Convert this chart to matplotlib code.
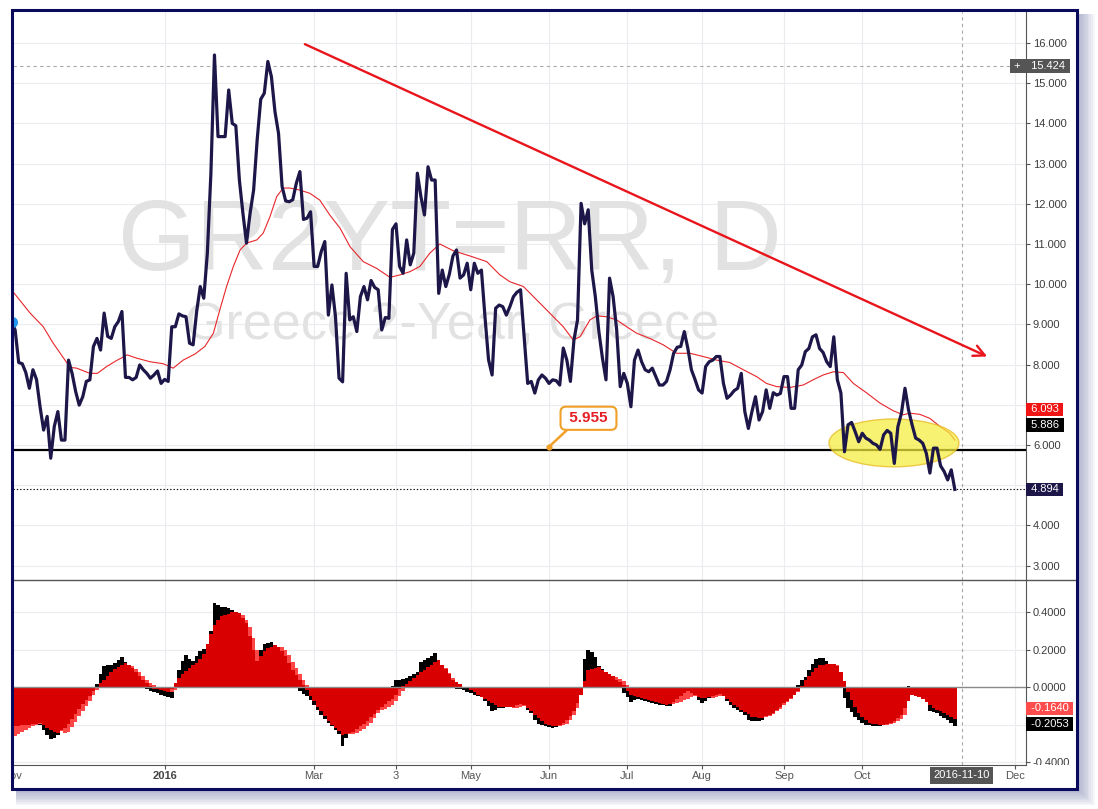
"""GR2YT=RR daily chart (Greece 2-year yield) with a MACD-style oscillator pane."""

import matplotlib
matplotlib.use("Agg")
import matplotlib.pyplot as plt
import pandas as pd
from matplotlib.lines import Line2D
from matplotlib.patches import Ellipse, Rectangle
from matplotlib.transforms import Bbox, TransformedBbox

plt.rcParams["font.family"] = ["Liberation Sans", "DejaVu Sans"]

W, H = 1098, 809
FIRST_DAY = "2015-11-02"          # bar 0 of the trading-day axis

# daily yield, one value per trading bar starting at bar 1
price = [
    9.07, 8.86, 8.05, 8.02, 7.80, 7.41, 7.87, 7.63, 6.95, 6.37,
    6.71, 5.67, 6.46, 6.83, 6.12, 6.12, 8.11, 7.78, 7.33, 6.99,
    7.20, 7.58, 7.62, 8.45, 8.65, 8.36, 9.28, 8.70, 8.65, 8.94,
    9.07, 9.32, 7.68, 7.68, 7.62, 7.68, 7.99, 7.87, 7.78, 7.66,
    7.74, 7.84, 7.53, 7.63, 7.58, 8.94, 8.94, 9.26, 9.21, 9.19,
    8.53, 8.49, 9.32, 9.94, 9.65, 10.77, 12.76, 15.70, 13.67, 13.67,
    13.67, 14.83, 14.00, 13.94, 12.59, 11.76, 11.02, 11.76, 12.34, 13.59,
    14.60, 14.75, 15.54, 15.16, 14.29, 13.75, 12.43, 12.07, 12.05, 12.10,
    12.51, 12.80, 11.61, 11.64, 11.80, 10.44, 10.44, 10.81, 11.06, 9.23,
    9.98, 9.19, 7.66, 7.57, 10.27, 9.11, 9.19, 8.82, 9.69, 9.94,
    9.61, 10.09, 9.92, 9.86, 8.86, 9.17, 9.15, 11.36, 11.50, 10.44,
    10.27, 11.10, 10.48, 10.77, 12.76, 12.18, 11.72, 12.92, 12.59, 12.59,
    9.77, 10.35, 9.94, 10.25, 10.70, 10.85, 10.15, 10.23, 10.52, 9.86,
    10.52, 10.27, 10.35, 9.19, 8.12, 7.74, 9.40, 9.48, 9.44, 9.23,
    9.44, 9.69, 9.80, 9.86, 8.69, 7.53, 7.58, 7.29, 7.62, 7.74,
    7.66, 7.53, 7.62, 7.60, 7.49, 8.41, 8.11, 7.58, 8.61, 9.11,
    12.01, 11.50, 11.85, 10.35, 9.69, 8.82, 8.16, 7.62, 10.15, 9.69,
    8.86, 7.45, 7.78, 7.53, 6.95, 8.11, 8.36, 8.07, 7.87, 7.82,
    7.91, 7.70, 7.49, 7.49, 7.58, 7.87, 8.28, 8.43, 8.45, 8.82,
    8.40, 7.87, 7.63, 7.37, 7.29, 7.95, 8.07, 8.11, 8.20, 8.20,
    7.53, 7.16, 7.24, 7.35, 7.41, 7.78, 6.83, 6.41, 6.83, 7.20,
    6.62, 6.83, 7.37, 6.91, 7.30, 7.24, 7.28, 7.70, 7.70, 6.91,
    6.91, 7.87, 7.99, 8.32, 8.40, 8.69, 8.74, 8.40, 8.30, 8.07,
    7.95, 8.69, 7.62, 7.29, 5.83, 6.50, 6.56, 6.33, 6.08, 6.29,
    6.17, 6.12, 6.04, 6.00, 5.89, 6.25, 6.36, 6.29, 5.54, 6.45,
    6.79, 7.41, 6.87, 6.50, 6.17, 6.12, 6.04, 5.79, 5.30, 5.92,
    5.92, 5.48, 5.34, 5.13, 5.38, 4.894,
]

# moving average (thin red), read as vertices: bar position, value
ma_bar = [
    1.5, 6.2, 9.9, 12.7, 16.0, 17.4, 19.3, 23.0, 25.1, 27.7, 30.5, 33.5, 36.1,
    39.9, 43.6, 46.4, 49.2, 52.5, 55.3, 57.7, 59.5, 61.4, 63.3, 65.2, 67.0,
    69.9, 71.7, 73.6, 75.5, 77.3, 79.2, 82.0, 84.8, 87.6, 90.4, 93.3, 96.1,
    99.8, 103.6, 107.3, 110.1, 112.9, 115.7, 118.5, 121.3, 125.1, 129.8,
    134.5, 138.2, 141.0, 144.8, 148.5, 152.2, 156.0, 158.8, 160.7, 163.5,
    165.4, 168.1, 171.0, 173.8, 176.6, 180.3, 184.1, 187.8, 191.6, 195.3,
    199.1, 202.8, 206.6, 210.3, 213.1, 216.0, 219.7, 223.4, 226.2, 229.0,
    231.9, 234.7, 237.5, 241.3, 245.0, 248.7, 251.5, 253.4, 256.2, 259.0,
    261.8, 264.6, 266.0,
]
ma_val = [
    9.80, 9.28, 8.94, 8.53, 8.11, 7.93, 7.91, 7.78, 7.78, 7.95, 8.10, 8.24, 8.16,
    8.07, 8.02, 7.91, 8.11, 8.26, 8.45, 8.78, 9.36, 9.94, 10.44, 10.85, 11.02,
    11.10, 11.27, 11.68, 12.18, 12.39, 12.39, 12.34, 12.26, 12.09, 11.72, 11.39, 10.93,
    10.56, 10.39, 10.17, 10.23, 10.31, 10.44, 10.77, 11.00, 10.83, 10.70,
    10.56, 10.23, 10.06, 9.94, 9.61, 9.28, 8.94, 8.61, 8.69, 9.11,
    9.21, 9.19, 9.11, 8.94, 8.78, 8.65, 8.49, 8.28, 8.28, 8.20,
    8.11, 8.05, 7.87, 7.70, 7.53, 7.45, 7.43, 7.49, 7.62, 7.74,
    7.82, 7.80, 7.53, 7.29, 7.04, 6.85, 6.75, 6.79, 6.76, 6.66,
    6.46, 6.29, 6.12,
]

# oscillator pane: fast (black), mid (dark red), slow (light red) columns
osc_fast = [
    -0.19, -0.19, -0.192, -0.194, -0.196, -0.198, -0.2, -0.202, -0.205, -0.23,
    -0.255, -0.278, -0.27, -0.258, -0.23, -0.205, -0.18, -0.155, -0.125, -0.098,
    -0.073, -0.05, -0.03, -0.01, 0.015, 0.07, 0.11, 0.115, 0.12, 0.13,
    0.145, 0.16, 0.135, 0.11, 0.085, 0.06, 0.03, 0.0, -0.01, -0.02,
    -0.027, -0.033, -0.04, -0.048, -0.055, -0.06, 0.01, 0.09, 0.14, 0.17,
    0.15, 0.14, 0.165, 0.19, 0.205, 0.23, 0.3, 0.45, 0.435, 0.428,
    0.425, 0.42, 0.41, 0.395, 0.36, 0.33, 0.30, 0.24, 0.18, 0.14,
    0.2, 0.228, 0.235, 0.242, 0.225, 0.2, 0.175, 0.145, 0.1, 0.05,
    0.0, -0.02, -0.035, -0.05, -0.07, -0.095, -0.125, -0.15, -0.17, -0.19,
    -0.21, -0.23, -0.25, -0.315, -0.27, -0.245, -0.23, -0.215, -0.2, -0.18,
    -0.16, -0.14, -0.12, -0.095, -0.07, -0.045, -0.02, 0.005, 0.035, 0.038,
    0.042, 0.046, 0.058, 0.07, 0.082, 0.135, 0.145, 0.153, 0.165, 0.18,
    0.14, 0.105, 0.07, 0.035, 0.0, -0.008, -0.013, -0.018, -0.026, -0.034,
    -0.042, -0.047, -0.052, -0.075, -0.1, -0.13, -0.12, -0.114, -0.11, -0.107,
    -0.105, -0.1, -0.095, -0.088, -0.1, -0.12, -0.14, -0.175, -0.195, -0.203,
    -0.21, -0.215, -0.22, -0.215, -0.21, -0.19, -0.165, -0.14, -0.115, -0.07,
    0.0, 0.15, 0.198, 0.188, 0.16, 0.11, 0.094, 0.078, 0.062, 0.046,
    0.03, 0.008, -0.03, -0.055, -0.078, -0.07, -0.062, -0.068, -0.074, -0.078,
    -0.084, -0.09, -0.096, -0.098, -0.1, -0.1, -0.09, -0.072, -0.055, -0.04,
    -0.034, -0.04, -0.05, -0.07, -0.087, -0.075, -0.06, -0.055, -0.05, -0.044,
    -0.05, -0.075, -0.095, -0.11, -0.12, -0.135, -0.15, -0.175, -0.18, -0.18,
    -0.18, -0.175, -0.152, -0.135, -0.118, -0.1, -0.085, -0.068, -0.05, -0.03,
    -0.01, 0.012, 0.035, 0.055, 0.09, 0.125, 0.15, 0.153, 0.153, 0.14,
    0.118, 0.095, 0.072, 0.03, -0.06, -0.11, -0.135, -0.158, -0.178, -0.194,
    -0.2, -0.205, -0.21, -0.209, -0.207, -0.2, -0.185, -0.17, -0.155, -0.125,
    -0.085, -0.04, 0.004, -0.02, -0.03, -0.043, -0.056, -0.07, -0.13, -0.135,
    -0.14, -0.152, -0.163, -0.175, -0.19, -0.2053,
]
osc_mid = [
    -0.21, -0.21, -0.208, -0.205, -0.203, -0.20, -0.198, -0.196, -0.194, -0.205,
    -0.217, -0.228, -0.24, -0.245, -0.23, -0.22, -0.197, -0.171, -0.145, -0.119,
    -0.093, -0.07, -0.047, -0.023, 0.0, 0.02, 0.04, 0.06, 0.08, 0.095,
    0.105, 0.116, 0.127, 0.12, 0.10, 0.08, 0.06, 0.037, 0.022, 0.006,
    -0.008, -0.012, -0.016, -0.02, -0.024, -0.01, 0.02, 0.047, 0.067, 0.083,
    0.1, 0.115, 0.13, 0.15, 0.175, 0.23, 0.285, 0.33, 0.36, 0.378,
    0.385, 0.392, 0.399, 0.398, 0.394, 0.37, 0.34, 0.27, 0.20, 0.14,
    0.165, 0.19, 0.21, 0.216, 0.222, 0.212, 0.19, 0.166, 0.13, 0.092,
    0.065, 0.038, 0.01, -0.017, -0.046, -0.075, -0.104, -0.13, -0.155, -0.18,
    -0.2, -0.22, -0.235, -0.255, -0.25, -0.244, -0.238, -0.225, -0.21, -0.196,
    -0.18, -0.16, -0.142, -0.123, -0.106, -0.092, -0.077, -0.062, -0.04, -0.012,
    0.003, 0.018, 0.033, 0.048, 0.065, 0.08, 0.093, 0.106, 0.12, 0.133,
    0.144, 0.12, 0.094, 0.068, 0.04, 0.026, 0.014, 0.002, -0.007, -0.018,
    -0.029, -0.04, -0.051, -0.062, -0.074, -0.085, -0.096, -0.104, -0.105, -0.105,
    -0.105, -0.105, -0.098, -0.09, -0.097, -0.114, -0.13, -0.148, -0.165, -0.182,
    -0.197, -0.202, -0.206, -0.21, -0.2, -0.19, -0.178, -0.155, -0.13, -0.085,
    -0.04, 0.03, 0.092, 0.097, 0.102, 0.105, 0.093, 0.082, 0.07, 0.058,
    0.04, 0.025, 0.01, -0.02, -0.045, -0.05, -0.055, -0.06, -0.065, -0.07,
    -0.075, -0.08, -0.085, -0.09, -0.095, -0.09, -0.078, -0.066, -0.05, -0.03,
    -0.02, -0.031, -0.042, -0.052, -0.056, -0.06, -0.054, -0.048, -0.042, -0.036,
    -0.048, -0.064, -0.08, -0.097, -0.109, -0.122, -0.134, -0.146, -0.158, -0.162,
    -0.165, -0.166, -0.157, -0.148, -0.138, -0.12, -0.104, -0.087, -0.073, -0.057,
    -0.04, -0.02, 0.008, 0.035, 0.06, 0.08, 0.1, 0.115, 0.12, 0.123,
    0.125, 0.122, 0.11, 0.08, 0.03, -0.025, -0.07, -0.105, -0.14, -0.16,
    -0.178, -0.192, -0.196, -0.198, -0.2, -0.201, -0.196, -0.19, -0.18, -0.165,
    -0.149, -0.11, -0.075, -0.045, -0.047, -0.051, -0.066, -0.08, -0.095, -0.11,
    -0.12, -0.13, -0.14, -0.15, -0.16, -0.17,
]
osc_slow = [
    -0.265, -0.26, -0.25, -0.24, -0.23, -0.22, -0.21, -0.2, -0.195, -0.195,
    -0.2, -0.205, -0.215, -0.225, -0.235, -0.243, -0.24, -0.215, -0.185, -0.155,
    -0.128, -0.1, -0.072, -0.045, -0.018, 0.0, 0.02, 0.04, 0.06, 0.078,
    0.092, 0.104, 0.114, 0.12, 0.11, 0.096, 0.08, 0.06, 0.04, 0.024,
    0.01, -0.004, -0.01, -0.015, -0.02, -0.024, -0.015, 0.01, 0.035, 0.055,
    0.072, 0.088, 0.104, 0.12, 0.14, 0.165, 0.2, 0.25, 0.3, 0.34,
    0.36, 0.375, 0.385, 0.392, 0.39, 0.385, 0.36, 0.32, 0.26, 0.2,
    0.16, 0.16, 0.18, 0.2, 0.21, 0.216, 0.212, 0.195, 0.17, 0.135,
    0.1, 0.07, 0.04, 0.012, -0.015, -0.045, -0.075, -0.1, -0.125, -0.15,
    -0.172, -0.192, -0.21, -0.228, -0.245, -0.25, -0.25, -0.245, -0.235, -0.225,
    -0.21, -0.19, -0.165, -0.14, -0.125, -0.115, -0.105, -0.095, -0.075, -0.05,
    -0.02, 0.0, 0.015, 0.03, 0.045, 0.06, 0.075, 0.09, 0.103, 0.115,
    0.125, 0.12, 0.1, 0.075, 0.05, 0.028, 0.01, 0.0, -0.004, -0.01,
    -0.02, -0.03, -0.04, -0.05, -0.06, -0.07, -0.08, -0.09, -0.098, -0.103,
    -0.108, -0.112, -0.11, -0.105, -0.1, -0.1, -0.11, -0.125, -0.142, -0.16,
    -0.178, -0.192, -0.2, -0.206, -0.21, -0.205, -0.195, -0.175, -0.15, -0.11,
    -0.03, 0.0, 0.03, 0.06, 0.08, 0.09, 0.088, 0.082, 0.068, 0.06,
    0.055, 0.042, 0.03, 0.01, -0.01, -0.025, -0.035, -0.045, -0.05, -0.055,
    -0.06, -0.065, -0.07, -0.075, -0.08, -0.085, -0.088, -0.085, -0.078, -0.07,
    -0.062, -0.055, -0.05, -0.045, -0.046, -0.05, -0.055, -0.058, -0.055, -0.05,
    -0.045, -0.045, -0.055, -0.07, -0.085, -0.1, -0.113, -0.125, -0.138, -0.15,
    -0.158, -0.163, -0.162, -0.155, -0.145, -0.13, -0.115, -0.095, -0.08, -0.065,
    -0.045, -0.025, 0.0, 0.02, 0.04, 0.06, 0.08, 0.098, 0.11, 0.118,
    0.122, 0.12, 0.115, 0.06, 0.0, -0.02, -0.05, -0.08, -0.11, -0.135,
    -0.155, -0.17, -0.182, -0.19, -0.196, -0.2, -0.2, -0.197, -0.192, -0.18,
    -0.17, -0.15, -0.045, -0.02, -0.02, -0.035, -0.05, -0.065, -0.08, -0.09,
    -0.1, -0.11, -0.125, -0.14, -0.152, -0.164,
]

tick_dates = ["2016-01-01", "2016-03-01", "2016-04-01", "2016-05-01",
              "2016-06-01", "2016-07-01", "2016-08-01", "2016-09-01", "2016-10-01",
              "2016-12-01"]
tick_labels = ["2016", "Mar", "3", "May", "Jun", "Jul", "Aug", "Sep", "Oct", "Dec"]
first_label = ("2015-11-01", "Nov")   # sits just left of the view, only "ov" shows
price_ticks = list(range(3, 17))
price_hidden = [5, 7]            # labels covered by the value tags
osc_ticks = [-0.4, -0.2, 0.0, 0.2, 0.4]
osc_hidden = [-0.2]

support_level = 5.886
last_price = 4.894
last_ma = 6.093
cross_price = 15.424
cross_date = "2016-11-10"
callout_date, callout_value = "2016-06-01", 5.955
trend_start = (83.4, 15.97)
trend_end = (275.1, 8.20)
zone_center, zone_size = (248.9, 6.05), (36.5, 1.19)

NAVY = "#1c1748"
RED = "#e8161c"
ORANGE = "#f0a028"

days = pd.bdate_range(FIRST_DAY, periods=320)


def bar_of(date):
    return int(days.searchsorted(pd.Timestamp(date)))


def fx(x):
    return x / W


def fy(y):
    return 1 - y / H


fig = plt.figure(figsize=(W / 100, H / 100), dpi=100)

# frame, shadow and white card
for k in range(10):
    fig.add_artist(Rectangle((fx(16), fy(790 + 1.7 * k)), (1062 + 1.9 * k) / W,
                             (776 + 1.7 * k) / H, transform=fig.transFigure,
                             fc="#46508c", ec="none", alpha=0.05, zorder=-3))
fig.add_artist(Rectangle((fx(11.5), fy(788.5)), 1065 / W, 779 / H,
                         transform=fig.transFigure, fc="white", ec="none", zorder=-2))

ax1 = fig.add_axes([fx(13), fy(580), 1013 / W, 568 / H])
ax2 = fig.add_axes([fx(13), fy(765), 1013 / W, 185 / H])
xlim = (1.4, 286.0)
tick_bars = [bar_of(d) for d in tick_dates]

for ax in (ax1, ax2):
    ax.set_facecolor("none")
    ax.set_xticks(tick_bars)
    ax.set_xlim(*xlim)          # after set_xticks, which would widen the view
    ax.set_axisbelow(True)
    ax.grid(True, color="#ebebf0", lw=0.8)
    ax.yaxis.tick_right()
    for side in ("top", "left", "bottom"):
        ax.spines[side].set_visible(False)
    ax.spines["right"].set_color("#555555")
    ax.tick_params(axis="y", length=3, width=0.8, color="#555555", labelsize=8,
                   labelcolor="#3c3c3c", pad=2)
    ax.axvline(bar_of(cross_date), color="#a8a8a8", lw=0.8, ls=(0, (3, 3)), zorder=3)

# ---- price pane
ax1.set_ylim(2.64, 16.77)
ax1.set_yticks(price_ticks)
ax1.set_yticklabels(["" if v in price_hidden else f"{v:.3f}" for v in price_ticks])
ax1.tick_params(axis="x", length=0, labelbottom=False)

ax1.text(fx(450), fy(270), "GR2YT=RR, D", transform=fig.transFigure, fontsize=72,
         color="#e2e2e2", ha="center", va="baseline", zorder=0.6)
ax1.text(fx(452), fy(340), "Greece 2-Year, Greece", transform=fig.transFigure,
         fontsize=37.5, color="#e2e2e2", ha="center", va="baseline", zorder=0.6)

price_bars = list(range(1, len(price) + 1))
ax1.axhline(cross_price, color="#a8a8a8", lw=0.8, ls=(0, (3, 3)), zorder=3)
ax1.axhline(last_price, color="black", lw=0.8, ls=(0, (1.2, 1.8)), zorder=3)
ax1.axhline(support_level, color="black", lw=1.6, zorder=3)
ax1.plot(ma_bar, ma_val, color="#e8262a", lw=0.8, zorder=3)
ax1.add_patch(Ellipse(zone_center, zone_size[0], zone_size[1], fc="#f6ee3c",
                      ec="#e6b81c", lw=1, alpha=0.72, zorder=4))
ax1.plot(price_bars, price, color=NAVY, lw=2.3, zorder=5)
ax1.plot(price_bars[0], price[0], "o", ms=7, color="#2196f3", zorder=6)

ax1.annotate("", xy=trend_end, xytext=trend_start,
             arrowprops=dict(arrowstyle="->,head_length=0.8,head_width=0.4",
                             color=RED, lw=1.7, shrinkA=0, shrinkB=0), zorder=6)

cb = bar_of(callout_date)
ax1.annotate(" %.3f " % callout_value, xy=(cb, callout_value), xytext=(28.4, 20.5),
             textcoords="offset points", ha="center", va="center", fontsize=11,
             fontweight="bold", color="#e31e24",
             bbox=dict(boxstyle="round,pad=0.3,rounding_size=0.35", fc="white",
                       ec=ORANGE, lw=1.5),
             arrowprops=dict(arrowstyle="-", color=ORANGE, lw=1.8, shrinkA=0,
                             shrinkB=0, relpos=(0.15, 0.0)), zorder=7)
ax1.plot(cb, callout_value, "o", ms=3.5, color=ORANGE, zorder=7)


def tag(ax, value, text, face, dy_px=0.0, dx_pt=1.3, ha="left"):
    ax.annotate(text, xy=(1, value), xycoords=ax.get_yaxis_transform(),
                xytext=(dx_pt, dy_px * 0.72), textcoords="offset points", ha=ha,
                va="center", fontsize=8, color="white",
                bbox=dict(boxstyle="square,pad=0.15", fc=face, ec="none"),
                annotation_clip=False, zorder=8)


tag(ax1, cross_price, " %.3f " % cross_price, "#555555")
tag(ax1, cross_price, " + ", "#555555", dx_pt=-1.3, ha="right")
tag(ax1, last_ma, " %.3f " % last_ma, "#f01414", dy_px=32)
tag(ax1, support_level, " %.3f " % support_level, "black", dy_px=24.6)
tag(ax1, last_price, " %.3f " % last_price, NAVY)

# ---- oscillator pane
ax2.set_ylim(-0.416, 0.571)
ax2.set_yticks(osc_ticks)
ax2.set_yticklabels(["" if v in osc_hidden else f"{v:.4f}" for v in osc_ticks])
ax2.spines["bottom"].set_visible(True)
ax2.spines["bottom"].set_color("#555555")
ax2.set_xticklabels(tick_labels)
ax2.tick_params(axis="x", length=3, width=0.8, color="#555555", labelsize=8,
                labelcolor="#555555", pad=1.5)
for lab in ax2.get_xticklabels():
    if lab.get_text() == "2016":
        lab.set_fontweight("bold")
        lab.set_color("#444444")

ax2.bar(range(1, len(osc_fast) + 1), osc_fast, width=1.0, color="black", lw=0, zorder=2.2)
ax2.bar(range(1, len(osc_slow) + 1), osc_slow, width=1.0, color="#ff4646", lw=0, zorder=2.3)
ax2.bar(range(1, len(osc_mid) + 1), osc_mid, width=1.0, color="#d80000", lw=0, zorder=2.4)
ax2.axhline(0, color="#8a8a8a", lw=1, zorder=3)

tag(ax2, osc_slow[-1], " %.4f " % osc_slow[-1], "#ff4c4c", dy_px=9.3)
tag(ax2, osc_fast[-1], " %.4f " % osc_fast[-1], "black", dy_px=1.5)

ax2.annotate(cross_date, xy=(bar_of(cross_date), 0), xycoords=("data", "axes fraction"),
             xytext=(0, -7.4), textcoords="offset points", ha="center", va="center",
             fontsize=8, color="white",
             bbox=dict(boxstyle="square,pad=0.3", fc="#555555", ec="none"),
             annotation_clip=False, zorder=8)
nov = ax2.annotate(first_label[1], xy=(bar_of(first_label[0]), 0),
                   xycoords=("data", "axes fraction"), xytext=(3.2, -7.9),
                   textcoords="offset points", ha="center", va="center", fontsize=8,
                   color="#555555", annotation_clip=False, zorder=8)

# labels that TradingView cuts at the pane edges
x_clip = TransformedBbox(Bbox.from_extents(fx(13.5), 0, fx(1026), 1), fig.transFigure)
for lab in ax2.get_xticklabels() + [nov]:
    lab.set_clip_box(x_clip)
    lab.set_clip_on(True)
y_clip = TransformedBbox(Bbox.from_extents(fx(1026), fy(765), 1, fy(580)), fig.transFigure)
for lab in ax2.get_yticklabels():
    lab.set_clip_box(y_clip)
    lab.set_clip_on(True)

fig.add_artist(Line2D([fx(13), fx(1075)], [fy(580), fy(580)], transform=fig.transFigure,
                      color="#555555", lw=1, zorder=4))
fig.add_artist(Rectangle((0, 0), fx(11), 1, transform=fig.transFigure, fc="white",
                         ec="none", zorder=9))
fig.add_artist(Rectangle((fx(11.5), fy(788.5)), 1065 / W, 779 / H,
                         transform=fig.transFigure, fill=False, ec="#0a0a5c", lw=2.2,
                         zorder=10))

fig.savefig("out.png", dpi=100)
